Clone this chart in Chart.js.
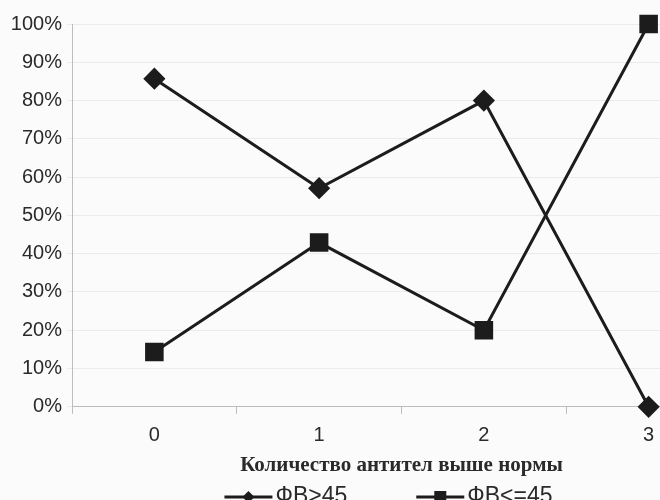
<!DOCTYPE html>
<html>
<head>
<meta charset="utf-8">
<script src="https://cdn.jsdelivr.net/npm/chart.js@4"></script>
<style>
  html, body { margin: 0; padding: 0; background: #fbfbfb; }
  #wrap { width: 660px; height: 500px; overflow: hidden; position: relative; }
  canvas { display: block; }
</style>
</head>
<body>
<div id="wrap"><canvas id="c" width="745" height="500"></canvas></div>
<script>
// Number of antibodies above the norm (categories)
const categories = ['0', '1', '2', '3'];
// Share of patients, %
const seriesHigh = [85.7, 57.1, 80, 0];   // ФВ>45
const seriesLow = [14.3, 42.9, 20, 100];  // ФВ<=45
const seriesNames = ['ФВ>45', 'ФВ<=45'];
const axisTitle = 'Количество антител выше нормы';

const ink = '#1c1c1c';
const textColor = '#2a2a2a';
const sans = 'Liberation Sans, Arial, sans-serif';

const bgPlugin = {
  id: 'bg',
  beforeDraw(chart) {
    const ctx = chart.ctx;
    ctx.save();
    ctx.fillStyle = '#fbfbfb';
    ctx.fillRect(0, 0, chart.width, chart.height);
    ctx.restore();
  }
};

// Bottom legend: a line segment with the series marker, then the series name
const lineLegend = {
  id: 'lineLegend',
  afterDraw(chart, args, opts) {
    const ctx = chart.ctx;
    const font = opts.size + 'px ' + sans;
    ctx.save();
    ctx.font = font;
    const items = chart.data.datasets.map(ds => ({
      ds, w: opts.swatch + opts.gap + ctx.measureText(ds.label).width
    }));
    const total = items.reduce((s, it) => s + it.w, 0) + opts.itemGap * (items.length - 1);
    const ca = chart.chartArea;
    let x = (ca.left + ca.right) / 2 + opts.shift - total / 2;
    const y = chart.height - opts.bottom;
    items.forEach(it => {
      const ds = it.ds;
      ctx.strokeStyle = ink; ctx.lineWidth = 3;
      ctx.beginPath(); ctx.moveTo(x, y); ctx.lineTo(x + opts.swatch, y); ctx.stroke();
      ctx.fillStyle = ink;
      const cx = x + opts.swatch / 2;
      if (ds.pointStyle === 'rectRot') {
        ctx.beginPath();
        ctx.moveTo(cx, y - 6); ctx.lineTo(cx + 6, y); ctx.lineTo(cx, y + 6); ctx.lineTo(cx - 6, y);
        ctx.closePath(); ctx.fill();
      } else {
        ctx.fillRect(cx - 6, y - 6, 12, 12);
      }
      ctx.fillStyle = textColor;
      ctx.textBaseline = 'middle';
      ctx.textAlign = 'left';
      ctx.fillText(ds.label, x + opts.swatch + opts.gap, y);
      x += it.w + opts.itemGap;
    });
    ctx.restore();
  }
};

new Chart(document.getElementById('c'), {
  type: 'line',
  data: {
    labels: categories,
    datasets: [
      {
        label: seriesNames[0], data: seriesHigh,
        borderColor: ink, backgroundColor: ink, borderWidth: 3,
        pointStyle: 'rectRot', pointRadius: 9, pointHoverRadius: 9,
        tension: 0, clip: false
      },
      {
        label: seriesNames[1], data: seriesLow,
        borderColor: ink, backgroundColor: ink, borderWidth: 3,
        pointStyle: 'rect', pointRadius: 11, pointHoverRadius: 11,
        tension: 0, clip: false
      }
    ]
  },
  options: {
    responsive: false,
    animation: false,
    layout: { padding: { left: 0, right: 0, top: 24, bottom: 22 } },
    scales: {
      x: {
        offset: true,
        grid: { offset: true, drawOnChartArea: false, tickLength: 7, color: '#bdbdbd' },
        border: { color: '#bdbdbd', width: 1 },
        ticks: { color: textColor, font: { family: sans, size: 20 }, padding: 10 },
        title: {
          display: true, text: axisTitle, color: textColor,
          font: { family: 'Liberation Serif, Times New Roman, serif', size: 21, weight: 'bold' },
          padding: { top: -5, bottom: 0 }
        }
      },
      y: {
        min: 0, max: 100,
        afterFit(scale) { scale.width = 72; },
        grid: { color: '#ebebeb', tickLength: 5, lineWidth: 1 },
        border: { color: '#bdbdbd', width: 1 },
        ticks: {
          stepSize: 10, color: textColor, padding: 5,
          font: { family: sans, size: 20 },
          callback: v => v + '%'
        }
      }
    },
    plugins: {
      tooltip: { enabled: false },
      legend: { display: false },
      lineLegend: { size: 23, swatch: 48, gap: 3, itemGap: 69, shift: -13, bottom: 3 }
    }
  },
  plugins: [bgPlugin, lineLegend]
});
</script>
</body>
</html>
